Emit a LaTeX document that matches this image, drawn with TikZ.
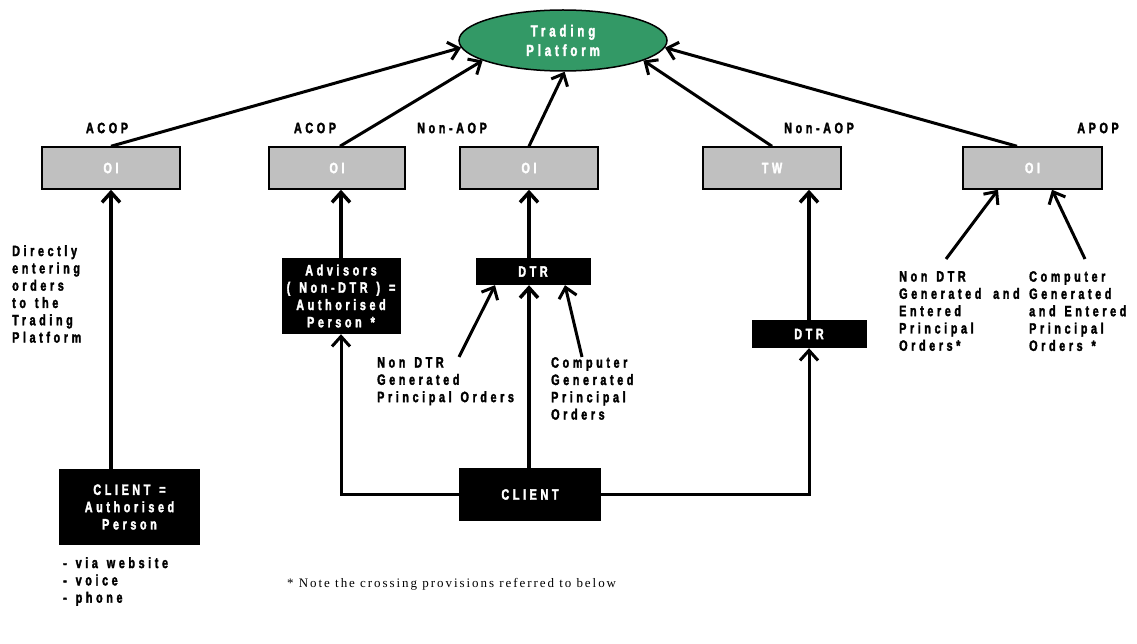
\documentclass[tikz,border=0pt]{standalone}
\usepackage{fontspec}
\usetikzlibrary{arrows.meta,shapes.geometric,calc}
\newfontfamily\cf[FakeStretch=0.72,LetterSpace=24,FakeBold=2.2,WordSpace=1.35]{Liberation Sans}
\newfontfamily\nf[LetterSpace=15]{Liberation Serif}
\definecolor{tpgreen}{RGB}{51,153,102}
\definecolor{boxgray}{RGB}{192,192,192}
\tikzset{
  lblfont/.style={font=\cf\bfseries\fontsize{15}{17.3}\selectfont},
  lbl/.style={lblfont, inner sep=0pt, align=left},
  graybox/.style={draw, line width=1.5pt, fill=boxgray, minimum height=42pt, inner sep=0pt, text=white, lblfont},
  blackbox/.style={fill=black, text=white, inner sep=0pt, align=center, lblfont},
  arr/.style={line width=3pt, -{Straight Barb[length=10pt,width=18pt]}},
  varr/.style={line width=3.5pt, -{Straight Barb[length=10pt,width=18pt]}},
  conn/.style={line width=3pt},
}
\begin{document}
\begin{tikzpicture}[x={(1pt,0)}, y={(0,-1pt)}]
\useasboundingbox (0,0) rectangle (1137,644);

% Trading platform
\node[ellipse, draw, line width=1.5pt, fill=tpgreen, minimum width=208pt, minimum height=61pt, inner sep=0pt, text=white, align=center, font=\cf\bfseries\fontsize{16}{19.5}\selectfont] (tp) at (563,40.5) {Trading\\Platform};

% gray boxes
\node[graybox, minimum width=138pt] (o1) at (111,168) {OI};
\node[graybox, minimum width=136pt] (o2) at (337,168) {OI};
\node[graybox, minimum width=138pt] (o3) at (529,168) {OI};
\node[graybox, minimum width=138pt] (o4) at (772,168) {TW};
\node[graybox, minimum width=139pt] (o5) at (1032.5,168) {OI};

% labels above
\node[lbl] (l1) at (107,128) {ACOP};
\node[lbl] (l2) at (315,128) {ACOP};
\node[lbl] (l3) at (452,128) {Non-AOP};
\node[lbl] (l4) at (819,128) {Non-AOP};
\node[lbl] (l5) at (1098,128) {APOP};

% black boxes
\node[blackbox, minimum width=119pt, minimum height=76pt] (adv) at (341,296) {Advisors\\( Non-DTR ) =\\Authorised\\Person *};
\node[blackbox, minimum width=115pt, minimum height=27pt] (dtr1) at (533,271.5) {DTR};
\node[blackbox, minimum width=115pt, minimum height=28pt] (dtr2) at (809,334) {DTR};
\node[blackbox, minimum width=142pt, minimum height=53pt] (client) at (530,494.5) {CLIENT};
\node[blackbox, minimum width=141pt, minimum height=76pt] (cap) at (129.5,507) {CLIENT =\\Authorised\\Person};

% text labels
\node[lbl, anchor=north west] (direct) at (12,245) {Directly\\entering\\orders\\to the\\Trading\\Platform};
\node[lbl, anchor=north west] (ndtr1) at (377,357) {Non DTR\\Generated\\Principal Orders};
\node[lbl, anchor=north west] (comp1) at (551,357) {Computer\\Generated\\Principal\\Orders};
\node[lbl, anchor=north west] (ndtr2) at (899,271) {Non DTR\\\makebox[94pt][l]{Generated}and\\Entered\\Principal\\Orders*};
\node[lbl, anchor=north west] (comp2) at (1029,271) {Computer\\Generated\\and Entered\\Principal\\Orders *};
\node[lbl, anchor=north west] (via) at (63,557) {- via website\\- voice\\- phone};
\node[anchor=west, inner sep=0pt, font=\nf\fontsize{13}{15}\selectfont] (note) at (287,584) {* Note the crossing provisions referred to below};

% arrows to trading platform
\draw[arr] (o1.north) -- (tp.184.5);
\draw[arr] (o2.north -| 340,0) -- (tp.194.5);
\draw[arr] (o3.north) -- (tp.273);
\draw[arr] (o4.north) -- (tp.346.5);
\draw[arr] (o5.north -| 1017,0) -- (tp.356);

% vertical arrows
\draw[varr] (o1.south |- cap.north) -- (o1.south);
\draw[varr] (adv.north) -- (adv.north |- o2.south);
\draw[varr] (o3.south |- dtr1.north) -- (o3.south);
\draw[varr] (dtr2.north) -- (dtr2.north |- o4.south);
\draw[varr] (o3.south |- client.north) -- (o3.south |- dtr1.south);

% client connectors
\draw[conn, -{Straight Barb[length=10pt,width=18pt]}] (client.west) -| (adv.south);
\draw[conn, -{Straight Barb[length=10pt,width=18pt]}] (client.east) -| (dtr2.south);

% label arrows
\coordinate (s1) at (459,357);
\coordinate (s2) at (582,357);
\coordinate (s3) at (946,259);
\coordinate (s4) at (1085,259);
\draw[arr] (s1) -- ([xshift=-38pt]dtr1.south);
\draw[arr] (s2) -- ([xshift=32pt]dtr1.south);
\draw[arr] (s3) -- ([xshift=-34.5pt]o5.south);
\draw[arr] (s4) -- ([xshift=19.5pt]o5.south);
\end{tikzpicture}
\end{document}
